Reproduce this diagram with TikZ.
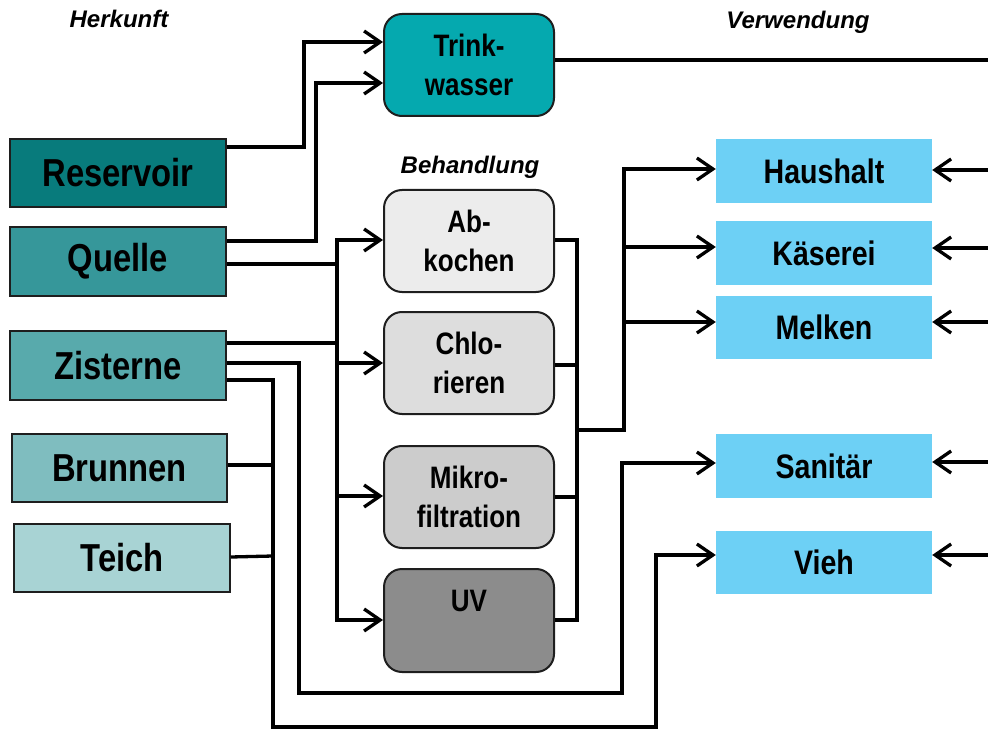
\documentclass[tikz,border=0pt]{standalone}
\usepackage{fontspec}
\setmainfont{Liberation Sans}
\newfontfamily\nb{Liberation Sans}[FakeStretch=0.84]
\usetikzlibrary{arrows.meta}
\definecolor{cres}{HTML}{087B7C}
\definecolor{cque}{HTML}{36979A}
\definecolor{czis}{HTML}{58AAAC}
\definecolor{cbru}{HTML}{7FBDBF}
\definecolor{ctei}{HTML}{A8D3D4}
\definecolor{ctw}{HTML}{05A9AF}
\definecolor{cabk}{HTML}{ECECEC}
\definecolor{cchl}{HTML}{DDDDDD}
\definecolor{cmik}{HTML}{CCCCCC}
\definecolor{cuv}{HTML}{8C8C8C}
\definecolor{cuse}{HTML}{6DD0F5}
\definecolor{edge}{HTML}{1E1E1E}
\tikzset{
  srcbox/.style={draw=edge, line width=1.5pt, rectangle, minimum width=216pt, minimum height=68pt,
    inner sep=0pt, font=\nb\bfseries\fontsize{39}{44}\selectfont},
  treat/.style={draw=edge, line width=2pt, rectangle, rounded corners=18pt, minimum width=170pt,
    minimum height=102pt, inner sep=0pt, align=center, font=\nb\bfseries\fontsize{31}{39}\selectfont},
  usebox/.style={fill=cuse, rectangle, minimum width=216pt, minimum height=64pt, inner sep=0pt,
    font=\nb\bfseries\fontsize{34}{40}\selectfont},
  head/.style={font=\bfseries\itshape\fontsize{24}{27}\selectfont},
  ln/.style={line width=3.3pt, line join=miter, draw=black},
  arr/.style={ln, -{Straight Barb[length=16pt,width=22pt]}},
}
\begin{document}
\begin{tikzpicture}[x=1pt,y=-1pt]
\useasboundingbox (0,0) rectangle (988,730);
% headings
\node[head] (hk) at (119,19) {Herkunft};
\node[head] (bh) at (470,167) {Behandlung};
\node[head] (vw) at (798,22) {Verwendung};
% sources
\node[srcbox, fill=cres] (res) at (118,173) {Reservoir};
\node[srcbox, fill=cque, minimum height=69pt] (que) at (118,261.5) {Quelle};
\node[srcbox, fill=czis, minimum height=69pt] (zis) at (118,365.5) {Zisterne};
\node[srcbox, fill=cbru, minimum width=215pt] (bru) at (119.5,468) {Brunnen};
\node[srcbox, fill=ctei] (tei) at (122,558) {Teich};
% treatment
\node[treat, fill=ctw] (tw) at (469,65) {Trink-\\wasser};
\node[treat, fill=cabk] (abk) at (469,241) {Ab-\\kochen};
\node[treat, fill=cchl] (chl) at (469,363) {Chlo-\\rieren};
\node[treat, fill=cmik] (mik) at (469,497) {Mikro-\\filtration};
\node[treat, fill=cuv, minimum height=103pt] (uv) at (469,620.5) {UV\\\mbox{}};
% uses
\node[usebox] (hh) at (824,171) {Haushalt};
\node[usebox] (kas) at (824,253) {Käserei};
\node[usebox, minimum height=63pt] (mel) at (824,327.5) {Melken};
\node[usebox] (san) at (824,466) {Sanitär};
\node[usebox, minimum height=63pt] (vie) at (824,562.5) {Vieh};
\coordinate (rim) at (988,0);
% sources to Trinkwasser
\draw[arr] (res.east |- 0,147) -| (304,42) -- (tw.west |- 0,42);
\draw[arr] (que.east |- 0,241) -| (316,83) -- (tw.west |- 0,83);
% sources to treatment bus
\draw[ln] (que.east |- 0,264) -- (337,264);
\draw[ln] (zis.east |- 0,343) -- (337,343);
\draw[arr] (337,300) |- (abk.west |- 0,240);
\draw[arr] (337,300) |- (uv.west |- 0,620);
\draw[arr] (337,363) -- (chl.west |- 0,363);
\draw[arr] (337,496) -- (mik.west |- 0,496);
% Zisterne / Brunnen / Teich to Sanitaer and Vieh
\draw[arr] (zis.east |- 0,363) -| (299,693) -| (622,463) -- (san.west |- 0,463);
\draw[arr] (zis.east |- 0,380) -| (273,727) -| (656,555) -- (vie.west |- 0,555);
\draw[ln] (bru.east |- 0,465) -- (273,465);
\draw[ln] (tei.east |- 0,557) -- (273,556);
% treatment outputs
\draw[ln] (abk.east |- 0,240) -| (577,620) -- (uv.east |- 0,620);
\draw[ln] (chl.east |- 0,365) -- (577,365);
\draw[ln] (mik.east |- 0,497) -- (577,497);
\draw[arr] (577,430) -| (624,169) -- (hh.west |- 0,169);
\draw[arr] (624,247) -- (kas.west |- 0,247);
\draw[arr] (624,322) -- (mel.west |- 0,322);
% Trinkwasser to uses
\draw[ln] (tw.east |- 0,60) -- (rim |- 0,60);
\draw[arr] (rim |- 0,170) -- (hh.east |- 0,170);
\draw[arr] (rim |- 0,248) -- (kas.east |- 0,248);
\draw[arr] (rim |- 0,322) -- (mel.east |- 0,322);
\draw[arr] (rim |- 0,462) -- (san.east |- 0,462);
\draw[arr] (rim |- 0,555) -- (vie.east |- 0,555);
\end{tikzpicture}
\end{document}
